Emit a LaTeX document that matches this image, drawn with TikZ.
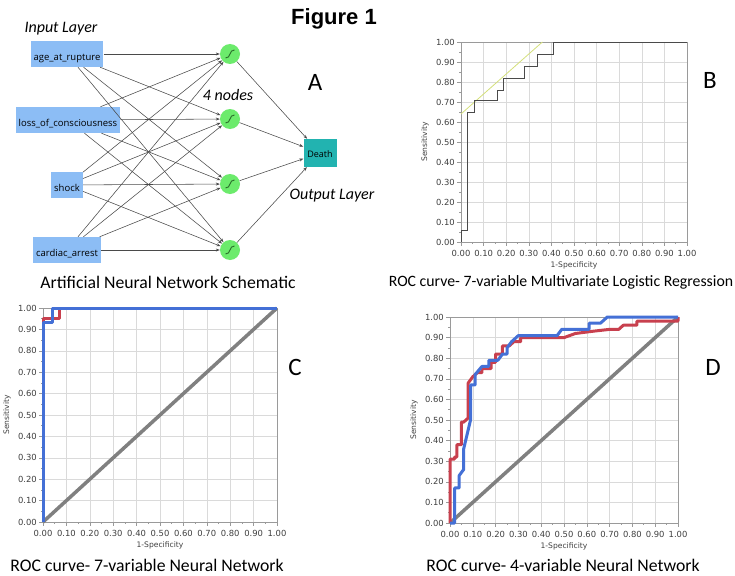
\documentclass[tikz,border=0pt]{standalone}
\usepackage{fontspec}
\setmainfont{Carlito}
\newfontfamily\boxfont{Open Sans}
\newfontfamily\tickfont{DejaVu Sans}
\newfontfamily\titlefont{Liberation Sans}
\usepackage[HTML]{xcolor}
\usetikzlibrary{positioning, arrows, arrows.meta}

\definecolor{inblue}{HTML}{8CBDF5}
\definecolor{outteal}{HTML}{22B3B0}
\definecolor{hidgreen}{HTML}{6CEB6C}
\definecolor{sigdark}{HTML}{2B6E2B}
\definecolor{edgegray}{HTML}{4A4A4A}
\definecolor{gridgray}{HTML}{DADADA}
\definecolor{framegray}{HTML}{9A9A9A}
\definecolor{rocblue}{HTML}{4470D6}
\definecolor{rocred}{HTML}{C8404E}
\definecolor{diaggray}{HTML}{808080}
\definecolor{lryellow}{HTML}{D4E07A}

\tikzset{
  inbox/.style={fill=inblue, minimum height=26pt, inner xsep=3pt, text height=13pt, text depth=0pt, font=\boxfont\fontsize{9.5}{10}\selectfont},
  outbox/.style={fill=outteal, minimum height=28pt, minimum width=33pt, inner xsep=2pt, text height=9pt, text depth=0pt, font=\boxfont\fontsize{9}{10}\selectfont},
  hidnode/.style={circle, fill=hidgreen, minimum size=20pt, inner sep=0pt},
  sigmoid/.style={draw=sigdark, line width=0.9pt},
  netarrow/.style={draw=edgegray, line width=0.55pt, -{Stealth[length=4pt, width=3pt]}},
  layertext/.style={font=\itshape\fontsize{16}{18}\selectfont},
  panelletter/.style={font=\fontsize{25}{28}\selectfont},
  caption/.style={inner sep=1pt, font=\fontsize{17.7}{20}\selectfont},
  gridline/.style={draw=gridgray, line width=0.5pt},
  axisline/.style={draw=framegray, line width=0.6pt},
  ticklabel/.style={font=\tickfont\fontsize{8.4}{9}\selectfont, text=black!75, inner sep=0pt},
  axislabel/.style={font=\tickfont\fontsize{7.6}{8}\selectfont, text=black!75, inner sep=0pt},
  diagline/.style={draw=diaggray, line width=3.5pt},
  nncurve/.style={line width=3pt, line join=round},
}

% grid, frame, ticks and labels of one ROC panel, in unit coordinates
\newcommand{\rocaxes}{%
  \foreach \t in {1,...,9} {
    \draw[gridline] (\t/10,0) -- (\t/10,1);
    \draw[gridline] (0,\t/10) -- (1,\t/10);
  }
  \draw[axisline] (0,0) rectangle (1,1);
  \foreach \t in {0.05,0.15,...,0.96} {
    \draw[axisline] (\t,0) -- ++(0,-2pt);
    \draw[axisline] (0,\t) -- ++(-2pt,0);
  }
  \foreach \t/\lab in {0/0.00,0.1/0.10,0.2/0.20,0.3/0.30,0.4/0.40,0.5/0.50,0.6/0.60,0.7/0.70,0.8/0.80,0.9/0.90,1/1.00} {
    \draw[axisline] (\t,0) -- ++(0,-4pt);
    \draw[axisline] (0,\t) -- ++(-4pt,0);
    \node[ticklabel, anchor=east] at ([xshift=-6pt]0,\t) {\lab};
    \node[ticklabel] at ([yshift=-11pt]\t,0) {\lab};
  }
  \node[axislabel, rotate=90] at ([xshift=-36pt]0,0.5) {Sensitivity};
  \node[axislabel] at ([yshift=-23pt]0.5,0) {1-Specificity};
}

\begin{document}
\begin{tikzpicture}[x=1pt, y=-1pt]
\fill[white] (0,0) rectangle (735,575);
\useasboundingbox (0,0) rectangle (735,575);

\node[font=\titlefont\bfseries\fontsize{22}{24}\selectfont] (title) at (334,19) {Figure 1};

% panel A: network
\node[layertext] (inlayer) at (61,29) {Input Layer};
\node[inbox] (age) at (67,54) {age\_at\_rupture};
\node[inbox] (loss) at (68,120) {loss\_of\_consciousness};
\node[inbox] (shock) at (67,185) {shock};
\node[inbox] (cardiac) at (67,250) {cardiac\_arrest};

\node[hidnode] (h1) at (230,54) {};
\node[hidnode] (h2) at (230,119) {};
\node[hidnode] (h3) at (230,184) {};
\node[hidnode] (h4) at (230,250) {};
\node[layertext] (nodestext) at (228,95) {4 nodes};

\node[outbox] (death) at (320,153) {Death};
\node[layertext] (outlayer) at (332,196) {Output Layer};
\node[panelletter] (letA) at (315,82) {A};

\foreach \h in {h1,h2,h3,h4}
  \draw[sigmoid] ([shift={(-4.5,4)}]\h.center) .. controls ([shift={(1,4.5)}]\h.center) and ([shift={(-1,-4.5)}]\h.center) .. ([shift={(4.5,-4)}]\h.center);

\foreach \i in {age,loss,shock,cardiac}
  \foreach \h in {h1,h2,h3,h4}
    \draw[netarrow] (\i) -- (\h);
\foreach \h in {h1,h2,h3,h4}
  \draw[netarrow] (\h) -- (death);

\node[caption] (capA) at (168,282) {Artificial Neural Network Schematic};

% panel B: logistic regression
\begin{scope}[shift={(461,242)}, x=226pt, y=200pt]
\rocaxes
\draw[lryellow, line width=0.8pt] (0,0.64) -- (0.36,1);
\draw[edgegray, line width=0.9pt] (0,0) -- (0,0.06) -- (0.03,0.06) -- (0.03,0.65) -- (0.06,0.65) -- (0.06,0.71) -- (0.16,0.71) -- (0.16,0.76) -- (0.19,0.76) -- (0.19,0.82) -- (0.28,0.82) -- (0.28,0.88) -- (0.34,0.88) -- (0.34,0.94) -- (0.41,0.94) -- (0.41,1) -- (1,1);
\end{scope}
\node[panelletter] (letB) at (710,80) {B};
\node[caption, font=\fontsize{15.8}{18}\selectfont] (capB) at (561,282) {ROC curve- 7-variable Multivariate Logistic Regression};

% panel C: 7-variable network
\begin{scope}[shift={(43,522)}, x=234pt, y=214pt]
\rocaxes
\draw[diagline] (0,0) -- (1,1);
\draw[nncurve, rocred] (0,0.9) -- (0,0.95) -- (0.07,0.95) -- (0.07,1) -- (0.2,1);
\draw[nncurve, rocblue] (0,0) -- (0,0.93) -- (0.04,0.93) -- (0.04,1) -- (1,1);
\end{scope}
\node[panelletter] (letC) at (295,367) {C};
\node[caption] (capC) at (147,565) {ROC curve- 7-variable Neural Network};

% panel D: 4-variable network
\begin{scope}[shift={(450,523)}, x=228pt, y=206pt]
\rocaxes
\draw[diagline] (0,0) -- (1,1);
\draw[nncurve, rocred] (0,0) -- (0,0.31) -- (0.02,0.31) -- (0.02,0.32) -- (0.03,0.32) -- (0.03,0.38) -- (0.05,0.38) -- (0.05,0.49) -- (0.06,0.49) -- (0.08,0.51) -- (0.08,0.68) -- (0.10,0.71) -- (0.12,0.73) -- (0.14,0.73) -- (0.14,0.75) -- (0.18,0.75) -- (0.18,0.78) -- (0.20,0.78) -- (0.20,0.82) -- (0.23,0.82) -- (0.23,0.86) -- (0.26,0.86) -- (0.28,0.88) -- (0.31,0.88) -- (0.31,0.90) -- (0.50,0.90) -- (0.55,0.92) -- (0.62,0.93) -- (0.70,0.94) -- (0.74,0.94) -- (0.76,0.96) -- (0.82,0.96) -- (0.82,0.98) -- (1,0.98) -- (1,1);
\draw[nncurve, rocblue] (0,0) -- (0.02,0) -- (0.02,0.17) -- (0.04,0.17) -- (0.04,0.23) -- (0.06,0.26) -- (0.06,0.36) -- (0.09,0.50) -- (0.09,0.67) -- (0.11,0.67) -- (0.11,0.72) -- (0.14,0.76) -- (0.17,0.76) -- (0.17,0.79) -- (0.21,0.79) -- (0.23,0.82) -- (0.25,0.82) -- (0.25,0.85) -- (0.27,0.88) -- (0.30,0.91) -- (0.47,0.91) -- (0.49,0.94) -- (0.61,0.94) -- (0.61,0.97) -- (0.66,0.97) -- (0.69,1) -- (1,1);
\end{scope}
\node[panelletter] (letD) at (713,367) {D};
\node[caption] (capD) at (563,565) {ROC curve- 4-variable Neural Network};
\end{tikzpicture}
\end{document}
